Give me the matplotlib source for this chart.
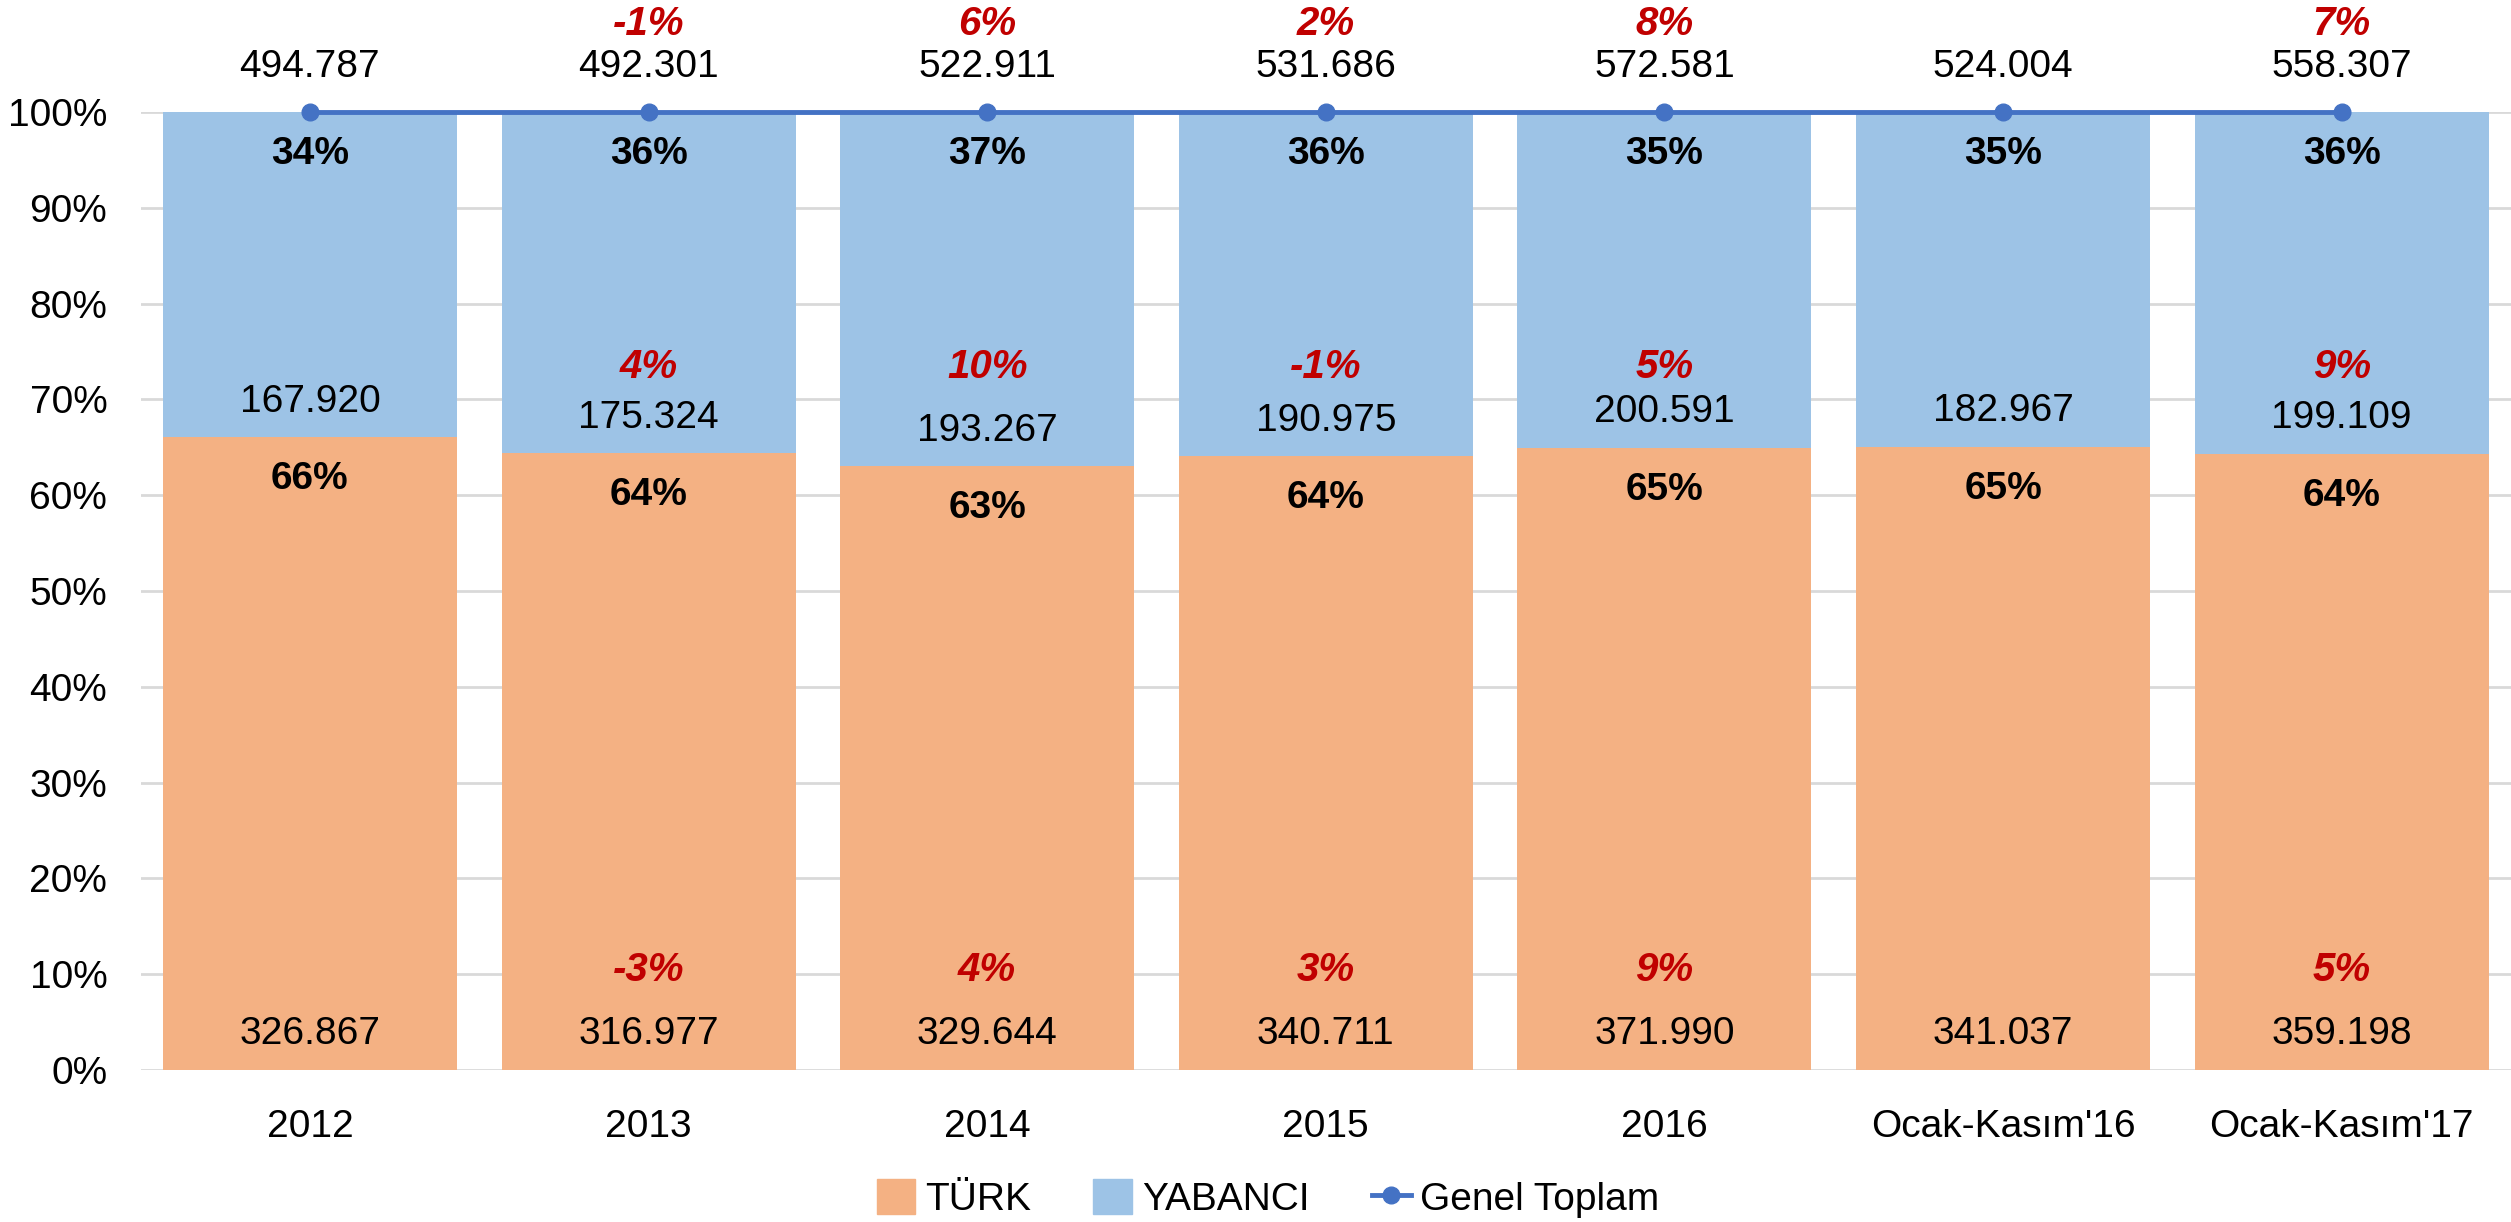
import matplotlib
matplotlib.use("Agg")
import matplotlib.pyplot as plt
from matplotlib.lines import Line2D
from matplotlib.patches import Patch
import numpy as np

plt.rcParams['font.family'] = ['Liberation Sans', 'DejaVu Sans']

categories = ['2012', '2013', '2014', '2015', '2016', "Ocak-Kasım'16", "Ocak-Kasım'17"]
turk = [326867, 316977, 329644, 340711, 371990, 341037, 359198]
yabanci = [167920, 175324, 193267, 190975, 200591, 182967, 199109]
toplam = [494787, 492301, 522911, 531686, 572581, 524004, 558307]
# yearly change labels (red), None = no label
turk_change = [None, '-3%', '4%', '3%', '9%', None, '5%']
yabanci_change = [None, '4%', '10%', '-1%', '5%', None, '9%']
toplam_change = [None, '-1%', '6%', '2%', '8%', None, '7%']

c_turk = '#F4B183'
c_yab = '#9DC3E6'
c_line = '#4472C4'
red = '#C00000'

def fmt(v):
    return f'{v:,}'.replace(',', '.')

x = np.arange(len(categories))
turk_sh = np.array(turk) / np.array(toplam)
yab_sh = np.array(yabanci) / np.array(toplam)

fig = plt.figure(figsize=(25.11, 12.22), dpi=100)
ax = fig.add_axes([0.056, 0.1244, 0.944, 0.7839])

ax.bar(x, turk_sh, width=0.868, color=c_turk, zorder=2)
ax.bar(x, yab_sh, width=0.868, bottom=turk_sh, color=c_yab, zorder=2)
ax.plot(x, np.ones(len(x)), color=c_line, lw=3.5, marker='o', ms=12, zorder=4, clip_on=False)

fs = 28
rfs = 29
for i in range(len(x)):
    ax.text(x[i], 0.038, fmt(turk[i]), ha='center', va='center', fontsize=fs, zorder=5)
    ax.text(x[i], turk_sh[i] - 0.044, f'{turk_sh[i]*100:.0f}%', ha='center', va='center',
            fontsize=fs, fontweight='bold', zorder=5)
    ax.text(x[i], turk_sh[i] + 0.037, fmt(yabanci[i]), ha='center', va='center', fontsize=fs, zorder=5)
    ax.text(x[i], 0.9565, f'{yab_sh[i]*100:.0f}%', ha='center', va='center',
            fontsize=fs, fontweight='bold', zorder=5)
    ax.text(x[i], 1.047, fmt(toplam[i]), ha='center', va='center', fontsize=fs, clip_on=False)
    if turk_change[i]:
        ax.text(x[i], 0.104, turk_change[i], ha='center', va='center', fontsize=rfs,
                fontweight='bold', fontstyle='italic', color=red, zorder=5)
    if yabanci_change[i]:
        ax.text(x[i], 0.734, yabanci_change[i], ha='center', va='center', fontsize=rfs,
                fontweight='bold', fontstyle='italic', color=red, zorder=5)
    if toplam_change[i]:
        ax.text(x[i], 1.092, toplam_change[i], ha='center', va='center', fontsize=rfs,
                fontweight='bold', fontstyle='italic', color=red, clip_on=False)

ax.set_xlim(-0.5, 6.5)
ax.set_ylim(0, 1)
ax.set_yticks(np.arange(0, 1.01, 0.1))
ax.set_yticklabels([f'{int(round(v*100))}%' for v in np.arange(0, 1.01, 0.1)])
ax.set_xticks(x)
ax.set_xticklabels(categories)
ax.tick_params(axis='both', length=0, labelsize=fs)
ax.tick_params(axis='x', pad=28)
ax.tick_params(axis='y', pad=24)
ax.grid(axis='y', color='#D9D9D9', lw=2, zorder=0)
for s in ax.spines.values():
    s.set_visible(False)

handles = [Patch(color=c_turk), Patch(color=c_yab),
           Line2D([0], [0], color=c_line, lw=3.5, marker='o', ms=12)]
fig.legend(handles, ['TÜRK', 'YABANCI', 'Genel Toplam'], loc='center', bbox_to_anchor=(0.505, 0.019),
           ncol=3, frameon=False, fontsize=fs, handlelength=1.0, handleheight=1.0,
           handletextpad=0.25, columnspacing=1.6)

fig.savefig('out.png', dpi=100)
